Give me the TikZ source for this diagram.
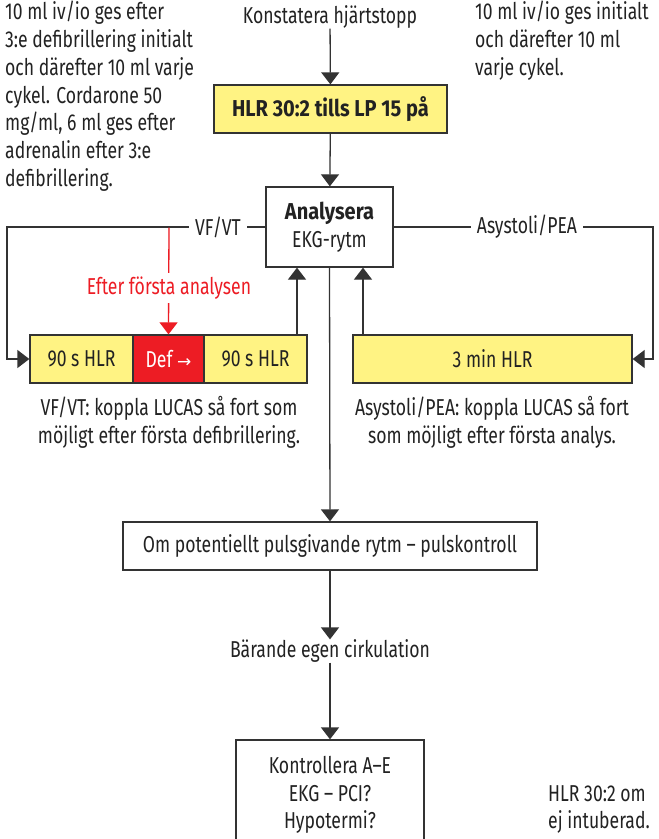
\documentclass[tikz,border=0pt]{standalone}
\usepackage{fontspec}
\setmainfont{Fira Sans}[FakeStretch=0.765]
\newfontfamily\boldfam{Fira Sans}[FakeStretch=0.87]
\newfontfamily\arrowfont{DejaVu Sans}
\usetikzlibrary{arrows.meta,calc}
\definecolor{ink}{HTML}{222222}
\definecolor{ln}{HTML}{333333}
\definecolor{yel}{HTML}{FFF383}
\definecolor{rd}{HTML}{ED1C24}
\newcommand{\msz}{\fontsize{23}{27.8}\selectfont}
\newcommand{\bld}{\boldfam\bfseries}
\begin{document}
\begin{tikzpicture}[x=1pt,y=-1pt,
  txt/.style={font=\msz, text=ink, inner sep=0pt, align=center},
  boxx/.style={draw=ln, line width=1.3pt, inner sep=0pt, font=\msz, text=ink, align=center},
  ybox/.style={boxx, fill=yel},
  arr/.style={draw=ln, line width=1.3pt, -{Triangle[width=18pt,length=12pt]}},
  lbl/.style={txt, fill=white, inner xsep=6pt, inner ysep=2pt}]
\useasboundingbox (0,0) rectangle (659,839);
\fill[white] (0,0) rectangle (659,839);

% top notes
\node[txt, align=left, anchor=north west] (noteL) at (5,1)
  {10 ml iv/io ges efter\\3:e defibrillering initialt\\och därefter 10 ml varje\\cykel. Cordarone 50\\mg/ml, 6 ml ges efter\\adrenalin efter 3:e\\defibrillering.};
\node[txt, align=left, anchor=north west] (noteR) at (475,1)
  {10 ml iv/io ges initialt\\och därefter 10 ml\\varje cykel.};

\node[txt] (konst) at (330,17) {Konstatera hjärtstopp};
\node[ybox, minimum width=233pt, minimum height=48pt] (hlr) at (330.5,109) {\bld HLR 30:2 tills LP 15 på};
\node[boxx, minimum width=127pt, minimum height=80pt] (ana) at (329.5,227) {{\bld Analysera}\\EKG-rytm};

\node[ybox, minimum width=103pt, minimum height=48pt] (h90a) at (81.5,359) {90 s HLR};
\node[boxx, fill=rd, text=white, minimum width=71pt, minimum height=48pt] (def) at (168.5,359) {Def {\arrowfont\fontsize{17}{20}\selectfont →}};
\node[ybox, minimum width=103pt, minimum height=48pt] (h90b) at (255.5,359) {90 s HLR};
\node[ybox, minimum width=279pt, minimum height=48pt] (h3) at (492.5,359) {3 min HLR};

\node[txt] (capL) at (169,422) {VF/VT: koppla LUCAS så fort som\\möjligt efter första defibrillering.};
\node[txt] (capR) at (492,422) {Asystoli/PEA: koppla LUCAS så fort\\som möjligt efter första analys.};

\node[boxx, minimum width=414pt, minimum height=48pt] (om) at (330,546) {Om potentiellt pulsgivande rytm -- pulskontroll};
\node[txt] (baer) at (330,651) {Bärande egen cirkulation};
\node[boxx, minimum width=188pt, minimum height=110pt] (kontr) at (330,795) {Kontrollera A--E\\EKG -- PCI?\\Hypotermi?};
\node[txt, align=left, anchor=north west] (noteB) at (548,785) {HLR 30:2 om\\ej intuberad.};

% coordinates
\coordinate (cL) at (7,227);
\coordinate (cR) at (653,227);
\coordinate (u1) at (297,0);
\coordinate (u2) at (363,0);
\coordinate (rx) at (169,227.5);

% connectors
\draw[arr] (konst) -- (hlr);
\draw[arr] (hlr) -- (ana);
\draw[arr] (ana.west) -- (cL) |- (h90a.west);
\draw[arr] (ana.east) -- (cR) |- (h3.east);
\draw[arr] (h90b.north -| u1) -- (ana.south -| u1);
\draw[arr] (h3.north -| u2) -- (ana.south -| u2);
\draw[arr, draw=rd, fill=rd] (rx) -- (def.north);
\draw[arr] (ana.south) -- (om.north);
\draw[arr] (om.south) -- (baer.north);
\draw[arr] (baer.south) -- (kontr.north);

% labels on lines
\node[lbl] (lvf) at (218,227) {VF/VT};
\node[lbl] (las) at (527,227) {Asystoli/PEA};
\node[lbl, text=rd, inner ysep=4pt] (lef) at (169,288) {Efter första analysen};
\end{tikzpicture}
\end{document}
